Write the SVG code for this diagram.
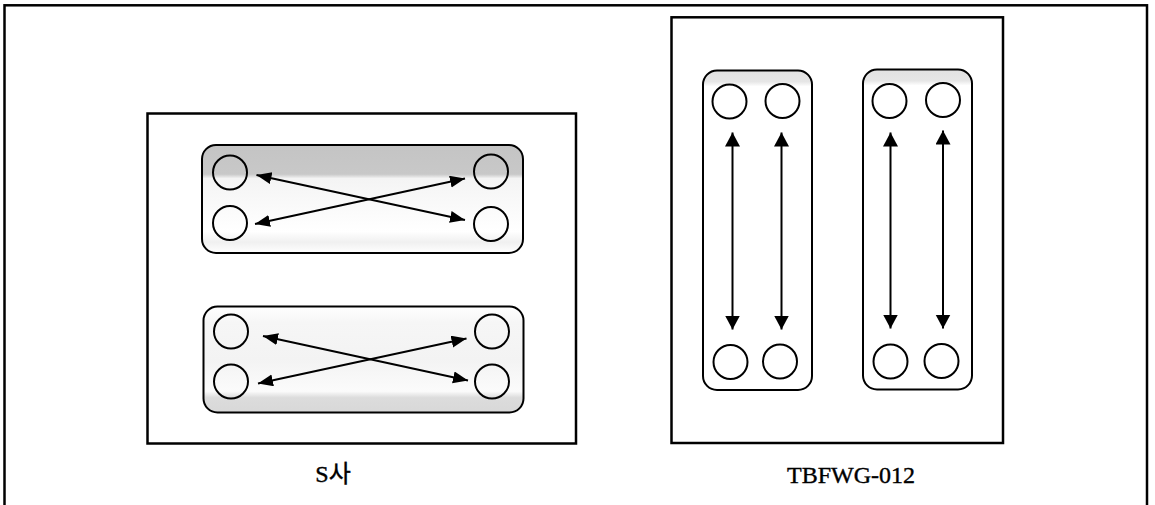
<svg xmlns="http://www.w3.org/2000/svg" width="1155" height="505" viewBox="0 0 1155 505">
  <style>
    .frame { fill: none; stroke: #000; stroke-width: 2.5; }
    .panel { fill: none; stroke: #000; stroke-width: 2.5; }
    .plate { stroke: #000; stroke-width: 2; }
    .port { fill: none; stroke: #000; stroke-width: 2; }
    .flow { fill: none; stroke: #000; stroke-width: 2; }
    .flow-s { marker-start: url(#headS); marker-end: url(#headS); }
    .flow-l { marker-start: url(#headL); marker-end: url(#headL); }
    .label { font-family: "Liberation Serif", "Noto Sans CJK KR", serif; font-size: 24px; fill: #000; stroke: #000; stroke-width: 0.4; }
  </style>
  <defs>
    <marker id="headS" markerUnits="userSpaceOnUse" markerWidth="16" markerHeight="13" refX="15" refY="6" orient="auto-start-reverse">
      <path d="M0,0 L15,6 L0,12 z" fill="#000"/>
    </marker>
    <marker id="headL" markerUnits="userSpaceOnUse" markerWidth="15" markerHeight="16" refX="14" refY="7.5" orient="auto-start-reverse">
      <path d="M0,0 L14,7.5 L0,15 z" fill="#000"/>
    </marker>
    <!-- shaded gasket band along the top of the upper plate -->
    <linearGradient id="shadeTop" x1="0" y1="0" x2="0" y2="1">
      <stop offset="0" stop-color="#c4c4c4"/>
      <stop offset="0.27" stop-color="#c8c8c8"/>
      <stop offset="0.31" stop-color="#f4f4f4"/>
      <stop offset="0.8" stop-color="#ffffff"/>
      <stop offset="0.9" stop-color="#f0f0f0"/>
      <stop offset="1" stop-color="#ffffff"/>
    </linearGradient>
    <!-- light mottling with a band along the bottom of the lower plate -->
    <linearGradient id="shadeBottom" x1="0" y1="0" x2="0" y2="1">
      <stop offset="0" stop-color="#ffffff"/>
      <stop offset="0.15" stop-color="#f6f6f6"/>
      <stop offset="0.5" stop-color="#f3f3f3"/>
      <stop offset="0.8" stop-color="#fbfbfb"/>
      <stop offset="0.86" stop-color="#dcdcdc"/>
      <stop offset="1" stop-color="#d8d8d8"/>
    </linearGradient>
    <!-- faint band along the top of the vertical plates -->
    <linearGradient id="shadeCap" x1="0" y1="0" x2="0" y2="1">
      <stop offset="0" stop-color="#e2e2e2"/>
      <stop offset="0.035" stop-color="#e6e6e6"/>
      <stop offset="0.05" stop-color="#ffffff"/>
      <stop offset="1" stop-color="#ffffff"/>
    </linearGradient>
  </defs>

  <!-- outer frame (open at the bottom edge) -->
  <rect class="frame" x="4.5" y="5.3" width="1142.5" height="510"/>

  <!-- S사 unit: two horizontal plates with diagonal flow -->
  <g id="unit-s">
    <rect class="panel" x="147.5" y="113.5" width="428.5" height="330"/>
  </g>

  <g id="plate-s-upper">
    <rect class="plate" x="202" y="145" width="321" height="108" rx="14" fill="url(#shadeTop)"/>
    <circle class="port" cx="230" cy="172.5" r="17"/>
    <circle class="port" cx="230" cy="223" r="17"/>
    <circle class="port" cx="491" cy="171.5" r="17"/>
    <circle class="port" cx="491" cy="224" r="17"/>
  </g>

  <g id="plate-s-lower">
    <rect class="plate" x="203.5" y="306.5" width="320" height="106" rx="14" fill="url(#shadeBottom)"/>
    <circle class="port" cx="231" cy="331.5" r="17"/>
    <circle class="port" cx="231" cy="381.5" r="17"/>
    <circle class="port" cx="492" cy="331.5" r="17"/>
    <circle class="port" cx="492" cy="381.5" r="17"/>
  </g>

  <!-- TBFWG-012 unit: two vertical plates with straight flow -->
  <g id="unit-tbfwg">
    <rect class="panel" x="671.5" y="17.3" width="331.5" height="425.7"/>
  </g>

  <g id="plate-t-left">
    <rect class="plate" x="703" y="70.5" width="109" height="319.5" rx="14" fill="url(#shadeCap)"/>
    <circle class="port" cx="729.5" cy="101.5" r="17"/>
    <circle class="port" cx="782.5" cy="101" r="17"/>
    <circle class="port" cx="730.5" cy="362" r="17"/>
    <circle class="port" cx="780" cy="361.5" r="17"/>
  </g>

  <g id="plate-t-right">
    <rect class="plate" x="863" y="69.5" width="109" height="320" rx="14" fill="url(#shadeCap)"/>
    <circle class="port" cx="889.5" cy="101" r="17"/>
    <circle class="port" cx="943" cy="100" r="17"/>
    <circle class="port" cx="890.5" cy="361.5" r="17"/>
    <circle class="port" cx="941.5" cy="361" r="17"/>
  </g>

  <!-- flow paths -->
  <g id="connectors">
    <line class="flow flow-s" x1="256.5" y1="175" x2="465" y2="220"/>
    <line class="flow flow-s" x1="255" y1="224" x2="465" y2="178.5"/>
    <line class="flow flow-s" x1="263" y1="336" x2="468" y2="380.5"/>
    <line class="flow flow-s" x1="258" y1="383.5" x2="466.5" y2="338.5"/>
    <line class="flow flow-l" x1="732.5" y1="132.5" x2="732.5" y2="329.5"/>
    <line class="flow flow-l" x1="781.5" y1="132.5" x2="781.5" y2="329.5"/>
    <line class="flow flow-l" x1="890.5" y1="132.5" x2="890.5" y2="328.5"/>
    <line class="flow flow-l" x1="943" y1="130.5" x2="943" y2="328.5"/>
  </g>

  <!-- captions -->
  <text class="label" x="333" y="482" text-anchor="middle">S사</text>
  <text class="label" x="787" y="483">TBFWG-012</text>
</svg>
